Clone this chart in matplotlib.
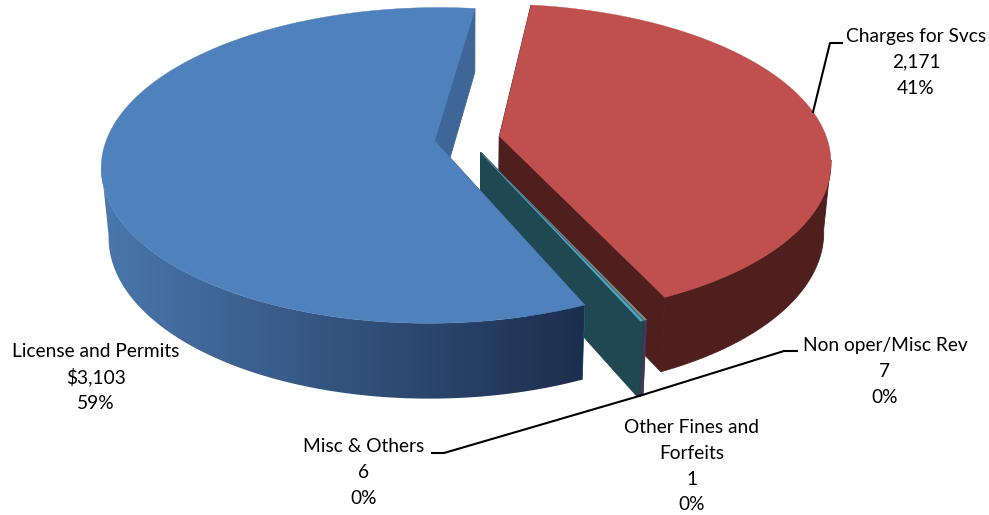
import numpy as np
import matplotlib
matplotlib.use('Agg')
import matplotlib.pyplot as plt
from matplotlib.patches import Polygon
from matplotlib.colors import LinearSegmentedColormap

######################## data #################################################
names = ['Charges for Svcs', 'Non oper/Misc Rev', 'Other Fines and\nForfeits', 'Misc & Others', 'License and Permits']
values = [2171, 7, 1, 6, 3103]
value_labels = ['2,171', '7', '1', '6', '$3,103']

top_colors = ['#c0504d', '#7d8f7c', '#8064a2', '#4bacc6', '#4f81bd']
wall_colors = ['#4f1f1e', '#3f3a5a', '#3f3150', '#1f4852', '#3e6797']
######################## data #################################################

start_angle = 82.7  # first slice starts here, going clockwise
explode = 0.1

# projection of the pie plane to pixels (perspective from below the top)
cx = 467.0
R = 327.6
k = 0.156
top_y0, top_h = 138.5, 153.3
bot_y0, bot_h = 207.0, 159.0
bot_scale = 0.98

# centre x, first line y of each label
label_pos = [(916, 36.5), (885, 345.5), (692, 427.5), (364, 446.5), (96, 351.5)]
line_step = 25.8

wall_cmap = LinearSegmentedColormap.from_list('wall', ['#4a77ad', '#1c2e4e'])


def project(x, y, bottom=False):
    w = 1 + k * y
    if bottom:
        return cx + bot_scale * R * x / w, bot_y0 - bot_h * y / w
    return cx + R * x / w, top_y0 - top_h * y / w


def slice_points(a0, a1, bottom=False, n=400):
    # arc and apex of one exploded slice, angles in degrees
    mid = np.radians((a0 + a1) / 2)
    ox, oy = explode * np.cos(mid), explode * np.sin(mid)
    t = np.radians(np.linspace(a0, a1, n))
    ax, ay = project(ox + np.cos(t), oy + np.sin(t), bottom)
    px, py = project(ox, oy, bottom)
    return px, py, ax, ay


fig = plt.figure(figsize=(9.89, 5.15), dpi=100)
ax = fig.add_axes([0, 0, 1, 1])

total = sum(values)
sweep = np.array(values) / total * 360
ends = start_angle - np.cumsum(sweep)
starts = ends + sweep

for i in range(len(values)):
    a0, a1 = starts[i], ends[i]
    px, py, tx, ty = slice_points(a0, a1)
    qx, qy, bx, by = slice_points(a0, a1, bottom=True)

    # the two cut faces
    for j in (0, -1):
        ax.fill([px, tx[j], bx[j], qx], [py, ty[j], by[j], qy],
                color=wall_colors[i], lw=0.6, zorder=i * 3 + 1)

    # outer wall, from the left and right silhouette points round the front
    t = np.radians(np.linspace(a0, a1, 400))
    front = np.sin(t) < -0.15
    wx = np.r_[tx[front], bx[front][::-1]]
    wy = np.r_[ty[front], by[front][::-1]]
    if i == len(values) - 1:
        # big blue slice gets darker to the right
        grad = np.linspace(0, 1, 256).reshape(1, -1)
        im = ax.imshow(grad, cmap=wall_cmap, extent=(wx.min(), wx.max(), wy.max(), wy.min()),
                       aspect='auto', zorder=i * 3 + 2)
        im.set_clip_path(Polygon(np.c_[wx, wy], transform=ax.transData))
    elif len(wx) > 0:
        ax.fill(wx, wy, color=wall_colors[i], lw=0.6, zorder=i * 3 + 2)

    # top face
    ax.fill(np.r_[px, tx], np.r_[py, ty], color=top_colors[i], lw=0.3, zorder=i * 3 + 3)

# labels
for i in range(len(values)):
    lines = names[i].split('\n') + [value_labels[i], '%.0f%%' % (values[i] / total * 100)]
    x, y = label_pos[i]
    for n, s in enumerate(lines):
        ax.text(x, y + n * line_step, s, ha='center', va='center', color='black',
                fontsize=13.8, family=['Lato', 'DejaVu Sans'], zorder=40)

# leader lines, the small ones start at the tip of their slice
_, _, bx, by = slice_points(starts[3], ends[3], bottom=True)
ax.plot([813, 830, 842], [112, 43, 43], color='black', lw=1.5, zorder=30)
ax.plot([bx[0], 784, 797], [by[0], 351, 351], color='black', lw=1.5, zorder=30)
ax.plot([bx[0], 444, 432], [by[0], 453, 453], color='black', lw=1.5, zorder=30)

ax.set_xlim(0, 989)
ax.set_ylim(515, 0)
ax.axis('off')

fig.savefig('out.png', dpi=100)
